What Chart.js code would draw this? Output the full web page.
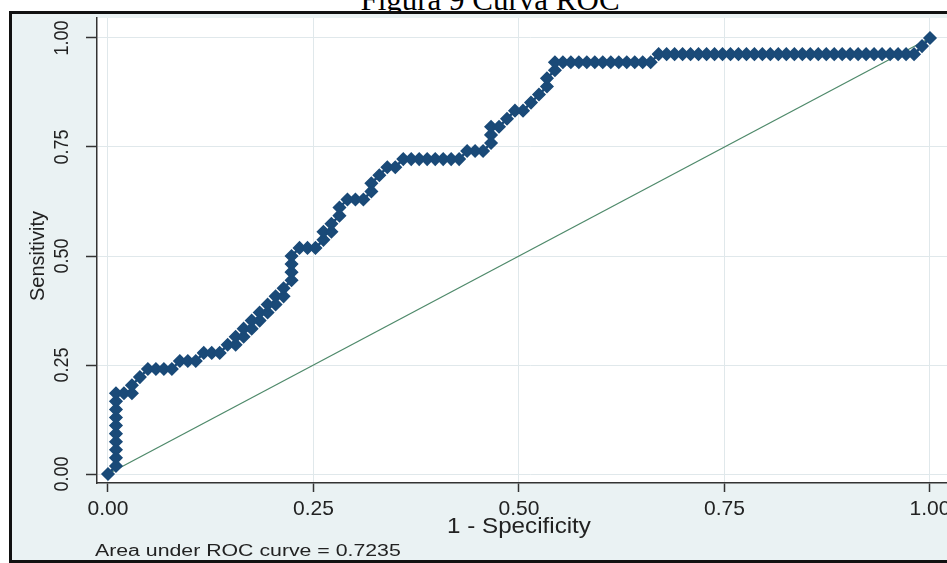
<!DOCTYPE html>
<html>
<head>
<meta charset="utf-8">
<script src="https://cdn.jsdelivr.net/npm/chart.js@4.4.1/dist/chart.umd.min.js"></script>
<style>
  html, body { margin: 0; padding: 0; background: #fff; overflow: hidden; width: 947px; height: 563px; }
  #fig-title { position: absolute; left: 0; top: -17px; width: 980px; text-align: center;
               font-family: "Liberation Serif", "Times New Roman", serif; font-size: 31px; line-height: 34px; color: #000; }
  #frame { position: absolute; left: 9px; top: 11px; width: 1000px; height: 546px;
           border: 3px solid #111; background: #eaf2f3; }
  #wrap { position: absolute; left: 0; top: 0; width: 990px; height: 563px; }
</style>
</head>
<body>
<div id="fig-title">Figura 9 Curva ROC</div>
<div id="frame"></div>
<div id="wrap"><canvas id="roc" width="990" height="563"></canvas></div>
<script>
// ROC curve points: 1 - specificity and sensitivity at each cutpoint
const fpr = [
  0,
  .0097, .0097, .0097, .0097, .0097, .0097, .0097, .0097, .0097, .0097,
  .0194, .0291, .0291, .0388, .0485,
  .0583, .0680, .0777, .0874, .0971, .1068, .1165, .1262, .1359, .1456,
  .1553, .1553, .1650, .1650, .1748, .1748, .1845, .1845, .1942, .1942, .2039, .2039, .2136, .2136,
  .2233, .2233, .2233, .2233,
  .2330, .2427, .2524, .2621, .2621, .2718, .2718, .2816, .2816,
  .2913, .3010, .3107, .3204, .3204, .3301, .3398, .3495, .3592,
  .3689, .3786, .3883, .3981, .4078, .4175, .4272,
  .4369, .4466, .4563, .4660, .4660, .4660, .4757, .4854, .4951, .5049, .5146, .5243, .5340, .5340, .5437, .5437,
  .5534, .5631, .5728, .5825, .5922, .6019, .6117, .6214, .6311, .6408, .6505, .6602,
  .6699, .6796, .6893, .6990, .7087, .7184, .7282, .7379, .7476, .7573, .7670, .7767, .7864, .7961, .8058, .8155,
  .8252, .8350, .8447, .8544, .8641, .8738, .8835, .8932, .9029, .9126, .9223, .9320, .9417, .9515, .9612, .9709, .9806,
  .9903, 1
];
const sens = [
  0,
  .0185, .0370, .0556, .0741, .0926, .1111, .1296, .1481, .1667, .1852,
  .1852, .1852, .2037, .2222, .2407,
  .2407, .2407, .2407, .2593, .2593, .2593, .2778, .2778, .2778, .2963,
  .2963, .3148, .3148, .3333, .3333, .3519, .3519, .3704, .3704, .3889, .3889, .4074, .4074, .4259,
  .4444, .4630, .4815, .5000,
  .5185, .5185, .5185, .5370, .5556, .5556, .5741, .5926, .6111,
  .6296, .6296, .6296, .6481, .6667, .6852, .7037, .7037, .7222,
  .7222, .7222, .7222, .7222, .7222, .7222, .7222,
  .7407, .7407, .7407, .7593, .7778, .7963, .7963, .8148, .8333, .8333, .8519, .8704, .8889, .9074, .9259, .9444,
  .9444, .9444, .9444, .9444, .9444, .9444, .9444, .9444, .9444, .9444, .9444, .9444,
  .9630, .9630, .9630, .9630, .9630, .9630, .9630, .9630, .9630, .9630, .9630, .9630, .9630, .9630, .9630, .9630,
  .9630, .9630, .9630, .9630, .9630, .9630, .9630, .9630, .9630, .9630, .9630, .9630, .9630, .9630, .9630, .9630, .9630,
  .9815, 1
];
// chance line
const refX = [0, 1];
const refY = [0, 1];
const tickVals = [0, 0.25, 0.5, 0.75, 1];
const xTitle = '1 - Specificity';
const yTitle = 'Sensitivity';
const aucNote = 'Area under ROC curve = 0.7235';

const NAVY = '#1a4a78';
const GREEN = '#4f8a6b';
const SANS = '"Liberation Sans", Arial, sans-serif';

// draws text stretched sideways by sx, anchored at (x, y)
function wideText(ctx, str, x, y, sx) {
  ctx.save();
  ctx.translate(x, y);
  ctx.scale(sx, 1);
  ctx.fillText(str, 0, 0);
  ctx.restore();
}

const textLayer = {
  id: 'textLayer',
  beforeDraw(chart) {
    const { ctx, chartArea: a } = chart;
    ctx.save();
    ctx.fillStyle = '#ffffff';
    ctx.fillRect(a.left, a.top, a.right - a.left, a.bottom - a.top);
    ctx.restore();
  },
  afterDraw(chart) {
    const ctx = chart.ctx;
    const xs = chart.scales.x, ys = chart.scales.y;
    ctx.save();
    ctx.fillStyle = '#222';
    ctx.textAlign = 'center';
    ctx.textBaseline = 'middle';
    // vertical tick labels on the sensitivity axis
    ctx.font = '18px ' + SANS;
    tickVals.forEach(v => {
      ctx.save();
      ctx.translate(62, ys.getPixelForValue(v));
      ctx.rotate(-Math.PI / 2);
      ctx.scale(1, 1.15);
      ctx.fillText(v.toFixed(2), 0, 0);
      ctx.restore();
    });
    // axis titles
    ctx.font = '20px ' + SANS;
    ctx.save();
    ctx.translate(38, ys.getPixelForValue(0.5));
    ctx.rotate(-Math.PI / 2);
    ctx.fillText(yTitle, 0, 0);
    ctx.restore();
    ctx.font = '22px ' + SANS;
    wideText(ctx, xTitle, xs.getPixelForValue(0.5), 527, 1.1);
    // area note
    ctx.font = '16px ' + SANS;
    ctx.textAlign = 'left';
    wideText(ctx, aucNote, 95, 552, 1.33);
    ctx.restore();
  }
};

new Chart(document.getElementById('roc'), {
  type: 'scatter',
  data: {
    datasets: [
      {
        label: 'ROC',
        data: fpr.map((x, i) => ({ x: x, y: sens[i] })),
        showLine: true,
        borderColor: NAVY,
        borderWidth: 2.5,
        pointStyle: 'rectRot',
        pointRadius: 6,
        pointBackgroundColor: NAVY,
        pointBorderColor: NAVY,
        pointBorderWidth: 1.5,
        clip: false
      },
      {
        label: 'Reference',
        data: refX.map((x, i) => ({ x: x, y: refY[i] })),
        showLine: true,
        borderColor: GREEN,
        borderWidth: 1.3,
        pointRadius: 0
      }
    ]
  },
  options: {
    responsive: false,
    animation: false,
    devicePixelRatio: 1,
    layout: { padding: { left: 0, top: 18, right: 27, bottom: 0 } },
    plugins: { legend: { display: false }, tooltip: { enabled: false } },
    scales: {
      x: {
        type: 'linear',
        min: -0.01338,
        max: 1.04015,
        afterBuildTicks: s => { s.ticks = tickVals.map(v => ({ value: v })); },
        afterFit: s => { s.height = 80; },
        grid: { color: '#e0e8eb', lineWidth: 1, tickLength: 9, tickColor: '#333', tickWidth: 1.5 },
        border: { display: true, color: '#333', width: 1.5 },
        ticks: {
          font: { family: SANS, size: 21 },
          color: '#222',
          padding: 5,
          maxRotation: 0,
          callback: v => Number(v).toFixed(2)
        }
      },
      y: {
        type: 'linear',
        min: -0.02064,
        max: 1.04587,
        afterBuildTicks: s => { s.ticks = tickVals.map(v => ({ value: v })); },
        afterFit: s => { s.width = 97; },
        grid: { color: '#e0e8eb', lineWidth: 1, tickLength: 11, tickColor: '#333', tickWidth: 1.5 },
        border: { display: true, color: '#333', width: 1.5 },
        ticks: { display: false }
      }
    }
  },
  plugins: [textLayer]
});
</script>
</body>
</html>
